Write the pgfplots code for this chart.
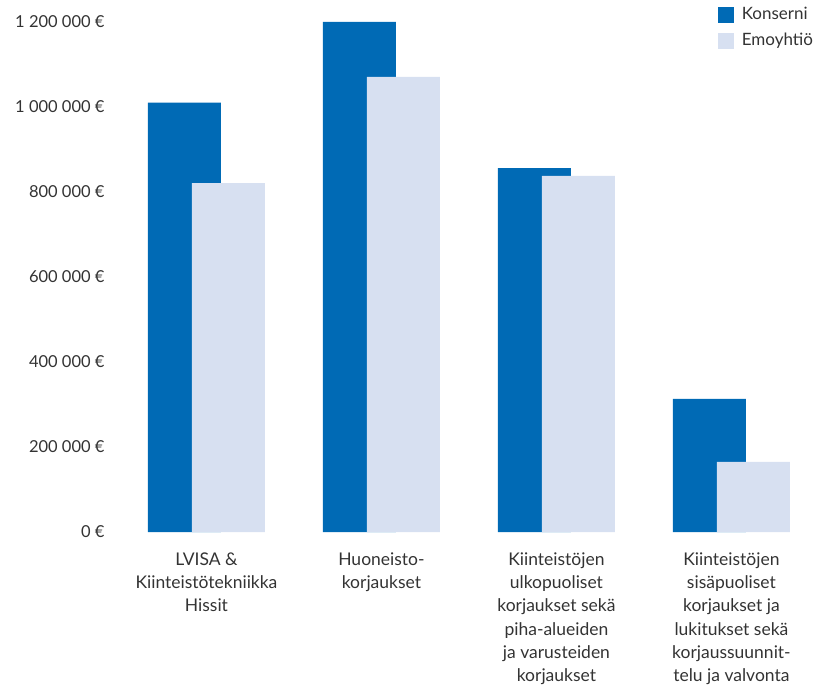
\documentclass[border=0pt]{standalone}
\usepackage{fontspec}
\setmainfont{Lato}
\usepackage{pgfplots}
\pgfplotsset{compat=1.18}
\definecolor{konserni}{HTML}{006AB5}
\definecolor{emo}{HTML}{D7E0F1}
\definecolor{txt}{HTML}{333333}
\begin{document}
\begin{tikzpicture}
\begin{axis}[
  scale only axis, width=690pt, height=510pt,
  at={(0,0)}, anchor=south west,
  xmin=-0.494, xmax=3.449, ymin=0, ymax=1200000,
  clip=false,
  axis line style={draw=none}, major tick length=0pt,
  scaled y ticks=false,
  ytick={0,200000,400000,600000,800000,1000000,1200000},
  yticklabels={0 €,200 000 €,400 000 €,600 000 €,800 000 €,1 000 000 €,1 200 000 €},
  yticklabel style={font=\fontsize{16.5}{19}\selectfont, text=txt, anchor=east, xshift=-12pt},
  xtick={0,1,2,3},
  xticklabels={{LVISA \&\\Kiinteistötekniikka\\Hissit},{Huoneisto-\\korjaukset},{Kiinteistöjen\\ulkopuoliset\\korjaukset sekä\\piha-alueiden\\ja varusteiden\\korjaukset},{Kiinteistöjen\\sisäpuoliset\\korjaukset ja\\lukitukset sekä\\korjaussuunnit-\\telu ja valvonta}},
  xticklabel style={font=\fontsize{17.5}{23.3}\selectfont, text=txt, align=center, anchor=north, yshift=-17pt},
  legend style={at={(rel axis cs:0.867,1.033)}, anchor=north west, draw=none, fill=none,
    font=\fontsize{17}{20}\selectfont, text=txt, row sep=8pt, inner sep=0pt,
    cells={anchor=west},
    /tikz/every odd column/.append style={column sep=6pt}},
]
\addplot[ybar, bar width=73pt, bar shift=-22pt, fill=konserni, draw=none, forget plot]
  coordinates {(0,1010000) (1,1200000) (2,856000) (3,313000)};
\addplot[ybar, bar width=73pt, bar shift=22pt, fill=emo, draw=none, forget plot]
  coordinates {(0,821000) (1,1071000) (2,838000) (3,165000)};
\addlegendimage{legend image code/.code={\fill[konserni] (0pt,-7.5pt) rectangle (15pt,7.5pt);}}
\addlegendentry{Konserni}
\addlegendimage{legend image code/.code={\fill[emo] (0pt,-7.5pt) rectangle (15pt,7.5pt);}}
\addlegendentry{Emoyhtiö}
\end{axis}
\pgfresetboundingbox
\path (-120pt,-159pt) rectangle (704pt,532pt);
\end{tikzpicture}
\end{document}
